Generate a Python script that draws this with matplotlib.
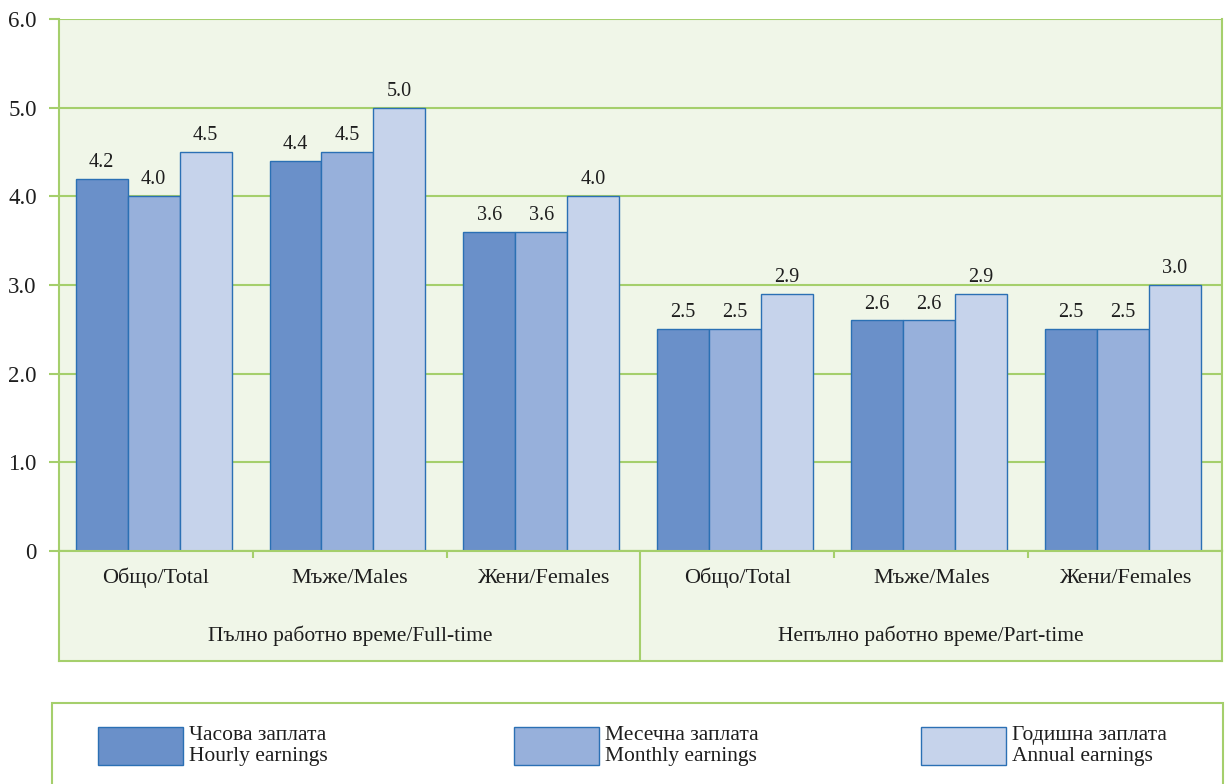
import matplotlib.pyplot as plt
import matplotlib.patches as mpatches
import numpy as np

plt.rcParams['font.family'] = ['Liberation Serif', 'DejaVu Serif']

# data
groups = ["Пълно работно време/Full-time", "Непълно работно време/Part-time"]
categories = ["Общо/Total", "Мъже/Males", "Жени/Females",
              "Общо/Total", "Мъже/Males", "Жени/Females"]
series_names = ["Часова заплата\nHourly earnings",
                "Месечна заплата\nMonthly earnings",
                "Годишна заплата\nAnnual earnings"]
hourly = [4.2, 4.4, 3.6, 2.5, 2.6, 2.5]
monthly = [4.0, 4.5, 3.6, 2.5, 2.6, 2.5]
annual = [4.5, 5.0, 4.0, 2.9, 2.9, 3.0]
yticks = [0, 1, 2, 3, 4, 5, 6]
ytick_labels = ["0", "1.0", "2.0", "3.0", "4.0", "5.0", "6.0"]

colors = ["#6a90c9", "#97b0db", "#c6d3eb"]
edge = "#2b70b4"
green = "#a5cf6c"
bg = "#f0f6e8"
txt = "#1e1e1e"

W, H = 1230, 784
fig = plt.figure(figsize=(W / 100, H / 100), dpi=100)

ax = fig.add_axes([59 / W, 1 - 551 / H, (1222 - 59) / W, (551 - 19) / H])
ax.set_facecolor(bg)

x = np.arange(len(categories))
bw = 0.268
all_series = [hourly, monthly, annual]
for i in range(3):
    bars = ax.bar(x - 0.012 + (i - 1) * bw, all_series[i], bw, color=colors[i],
                  edgecolor=edge, linewidth=1, zorder=3, label=series_names[i])
    for b, v in zip(bars, all_series[i]):
        ax.annotate("%.1f" % v, (b.get_x() + b.get_width() / 2, v),
                    xytext=(0, 5), textcoords="offset points",
                    ha="center", va="bottom", fontsize=14.5, color=txt)

ax.set_xlim(-0.5, len(categories) - 0.5)
ax.set_ylim(0, 6)
ax.set_yticks(yticks)
ax.set_yticklabels(ytick_labels, fontsize=16.5, color=txt)
ax.tick_params(axis="y", length=7, color=green, width=1.5, pad=9)
ax.set_xticks([])
ax.yaxis.grid(True, color=green, linewidth=1.5, zorder=0)
for s in ["left", "right", "bottom"]:
    ax.spines[s].set_color(green)
    ax.spines[s].set_linewidth(1.5)
ax.spines["top"].set_visible(False)

# category panel under the bars
ax2 = fig.add_axes([59 / W, 1 - 661 / H, (1222 - 59) / W, 110 / H])
ax2.set_facecolor(bg)
ax2.set_xlim(-0.5, len(categories) - 0.5)
ax2.set_ylim(0, 1)
ax2.set_yticks([])
ax2.set_xticks([0.5, 1.5, 3.5, 4.5])
ax2.set_xticklabels([])
ax2.tick_params(axis="x", direction="in", top=True, bottom=False,
                length=5, color=green, width=1.5)
for s in ax2.spines.values():
    s.set_color(green)
    s.set_linewidth(1.5)
ax2.axvline(2.5, color=green, linewidth=1.5)
for i, c in enumerate(categories):
    ax2.text(i, 0.71, c, ha="center", va="baseline", fontsize=16, color=txt)
for j, g in enumerate(groups):
    ax2.text(1 + 3 * j, 0.18, g, ha="center", va="baseline", fontsize=15.5, color=txt)

# legend box
fig.patches.append(mpatches.Rectangle((52 / W, -0.05), (1223 - 52) / W, 0.05 + 1 - 703 / H,
                                      transform=fig.transFigure, facecolor="white",
                                      edgecolor=green, linewidth=1.5))
handles, labels = ax.get_legend_handles_labels()
leg_x = [98, 514, 921]
fs = 15.5
for i in range(3):
    fig.legend([handles[i]], [labels[i]], loc="center left",
               bbox_to_anchor=(leg_x[i] / W, 1 - 746 / H), frameon=False,
               fontsize=fs, handlelength=3.95, handleheight=2.34,
               handletextpad=0.3, borderpad=0, borderaxespad=0,
               labelspacing=0, labelcolor=txt)

fig.savefig("out.png", dpi=100)
